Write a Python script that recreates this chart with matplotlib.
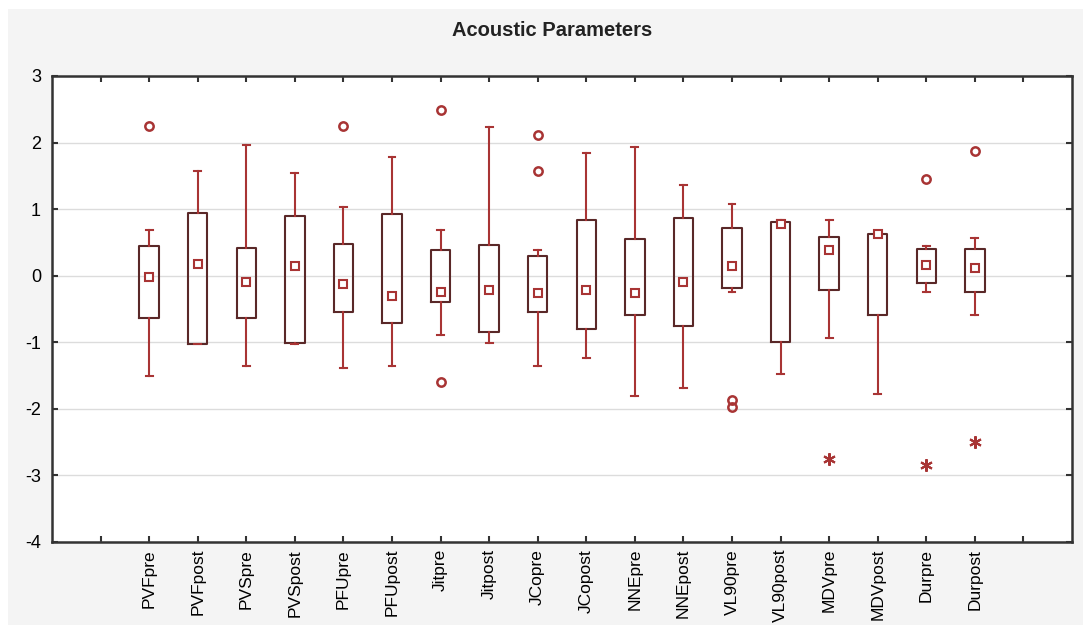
import matplotlib.pyplot as plt
from matplotlib.patches import Rectangle

# Values
labels = ["PVFpre", "PVFpost", "PVSpre", "PVSpost", "PFUpre", "PFUpost",
          "Jitpre", "Jitpost", "JCopre", "JCopost", "NNEpre", "NNEpost",
          "VL90pre", "VL90post", "MDVpre", "MDVpost", "Durpre", "Durpost"]
medians = [-0.02, 0.18, -0.10, 0.14, -0.12, -0.30, -0.24, -0.22, -0.26,
           -0.22, -0.26, -0.10, 0.14, 0.77, 0.38, 0.62, 0.16, 0.12]
q1 = [-0.64, -1.03, -0.64, -1.01, -0.54, -0.71, -0.40, -0.84, -0.55,
      -0.80, -0.59, -0.75, -0.19, -1.00, -0.21, -0.59, -0.11, -0.24]
q3 = [0.44, 0.94, 0.42, 0.90, 0.48, 0.93, 0.39, 0.46, 0.29,
      0.83, 0.55, 0.87, 0.71, 0.80, 0.58, 0.63, 0.40, 0.40]
whis_lo = [-1.50, -1.03, -1.35, -1.02, -1.39, -1.35, -0.89, -1.01, -1.35,
           -1.24, -1.81, -1.68, -0.25, -1.47, -0.93, -1.78, -0.25, -0.59]
whis_hi = [0.69, 1.58, 1.97, 1.54, 1.03, 1.79, 0.69, 2.24, 0.39,
           1.84, 1.93, 1.37, 1.07, 0.83, 0.84, 0.63, 0.44, 0.57]
outliers = [[2.25], [], [], [], [2.25], [], [2.49, -1.60], [], [2.12, 1.58],
            [], [], [], [-1.86, -1.97], [], [], [], [1.46], [1.88]]
extremes = [[], [], [], [], [], [], [], [], [], [], [], [], [], [], [-2.75],
            [], [-2.85], [-2.50]]

box_col = "#5a2828"
red = "#a83434"

plt.rcParams["font.family"] = ["Liberation Sans", "DejaVu Sans"]

fig = plt.figure(figsize=(10.83, 6.26), dpi=100, facecolor="white")
fig.patches.append(Rectangle((8 / 1083, 1 / 626), 1, 616 / 626,
                             transform=fig.transFigure, facecolor="#f4f4f4",
                             edgecolor="none", zorder=-10))
ax = fig.add_axes([52 / 1083, 84 / 626, 1020 / 1083, 466 / 626])
ax.set_facecolor("white")

positions = list(range(1, len(labels) + 1))
stats = []
for i in range(len(labels)):
    stats.append({"med": medians[i], "mean": medians[i], "q1": q1[i], "q3": q3[i],
                  "whislo": whis_lo[i], "whishi": whis_hi[i], "fliers": outliers[i]})

ax.bxp(stats, positions=positions, widths=0.4, showmeans=True,
       boxprops=dict(color=box_col, linewidth=1.5),
       whiskerprops=dict(color=red, linewidth=1.5),
       capprops=dict(color=red, linewidth=1.5),
       medianprops=dict(linewidth=0),
       meanprops=dict(marker="s", markersize=6, markerfacecolor="white",
                      markeredgecolor=red, markeredgewidth=1.5),
       flierprops=dict(marker="o", markersize=6, markerfacecolor="none",
                       markeredgecolor=red, markeredgewidth=1.8),
       capwidths=0.14, zorder=3)

# extreme values drawn as asterisks
for pos, ext in zip(positions, extremes):
    if ext:
        ax.plot([pos] * len(ext), ext, linestyle="none", marker=(6, 2, 0),
                markersize=9, color=red, markeredgewidth=1.5, zorder=4)

ax.set_xlim(-1, 20)
ax.set_ylim(-4, 3)
ax.set_xticks(range(0, 20))
ax.set_xticklabels([""] + labels + [""], rotation=90, fontsize=12.5)
ax.set_yticks(range(-4, 4))
ax.set_yticklabels([str(v) for v in range(-4, 4)], fontsize=13)
ax.tick_params(direction="in", length=4, width=1.5, color="#333333",
               top=True, right=True, pad=8)
ax.tick_params(axis="x", pad=5)
ax.grid(axis="y", color="#dcdcdc", linewidth=1, zorder=0)
ax.set_axisbelow(True)
for sp in ax.spines.values():
    sp.set_color("#333333")
    sp.set_linewidth(1.8)

fig.text(552 / 1083, 1 - 31 / 626, "Acoustic Parameters", ha="center",
         va="center", fontsize=14.5, fontweight="bold", color="#222222")

fig.savefig("out.png", dpi=100, facecolor=fig.get_facecolor())
